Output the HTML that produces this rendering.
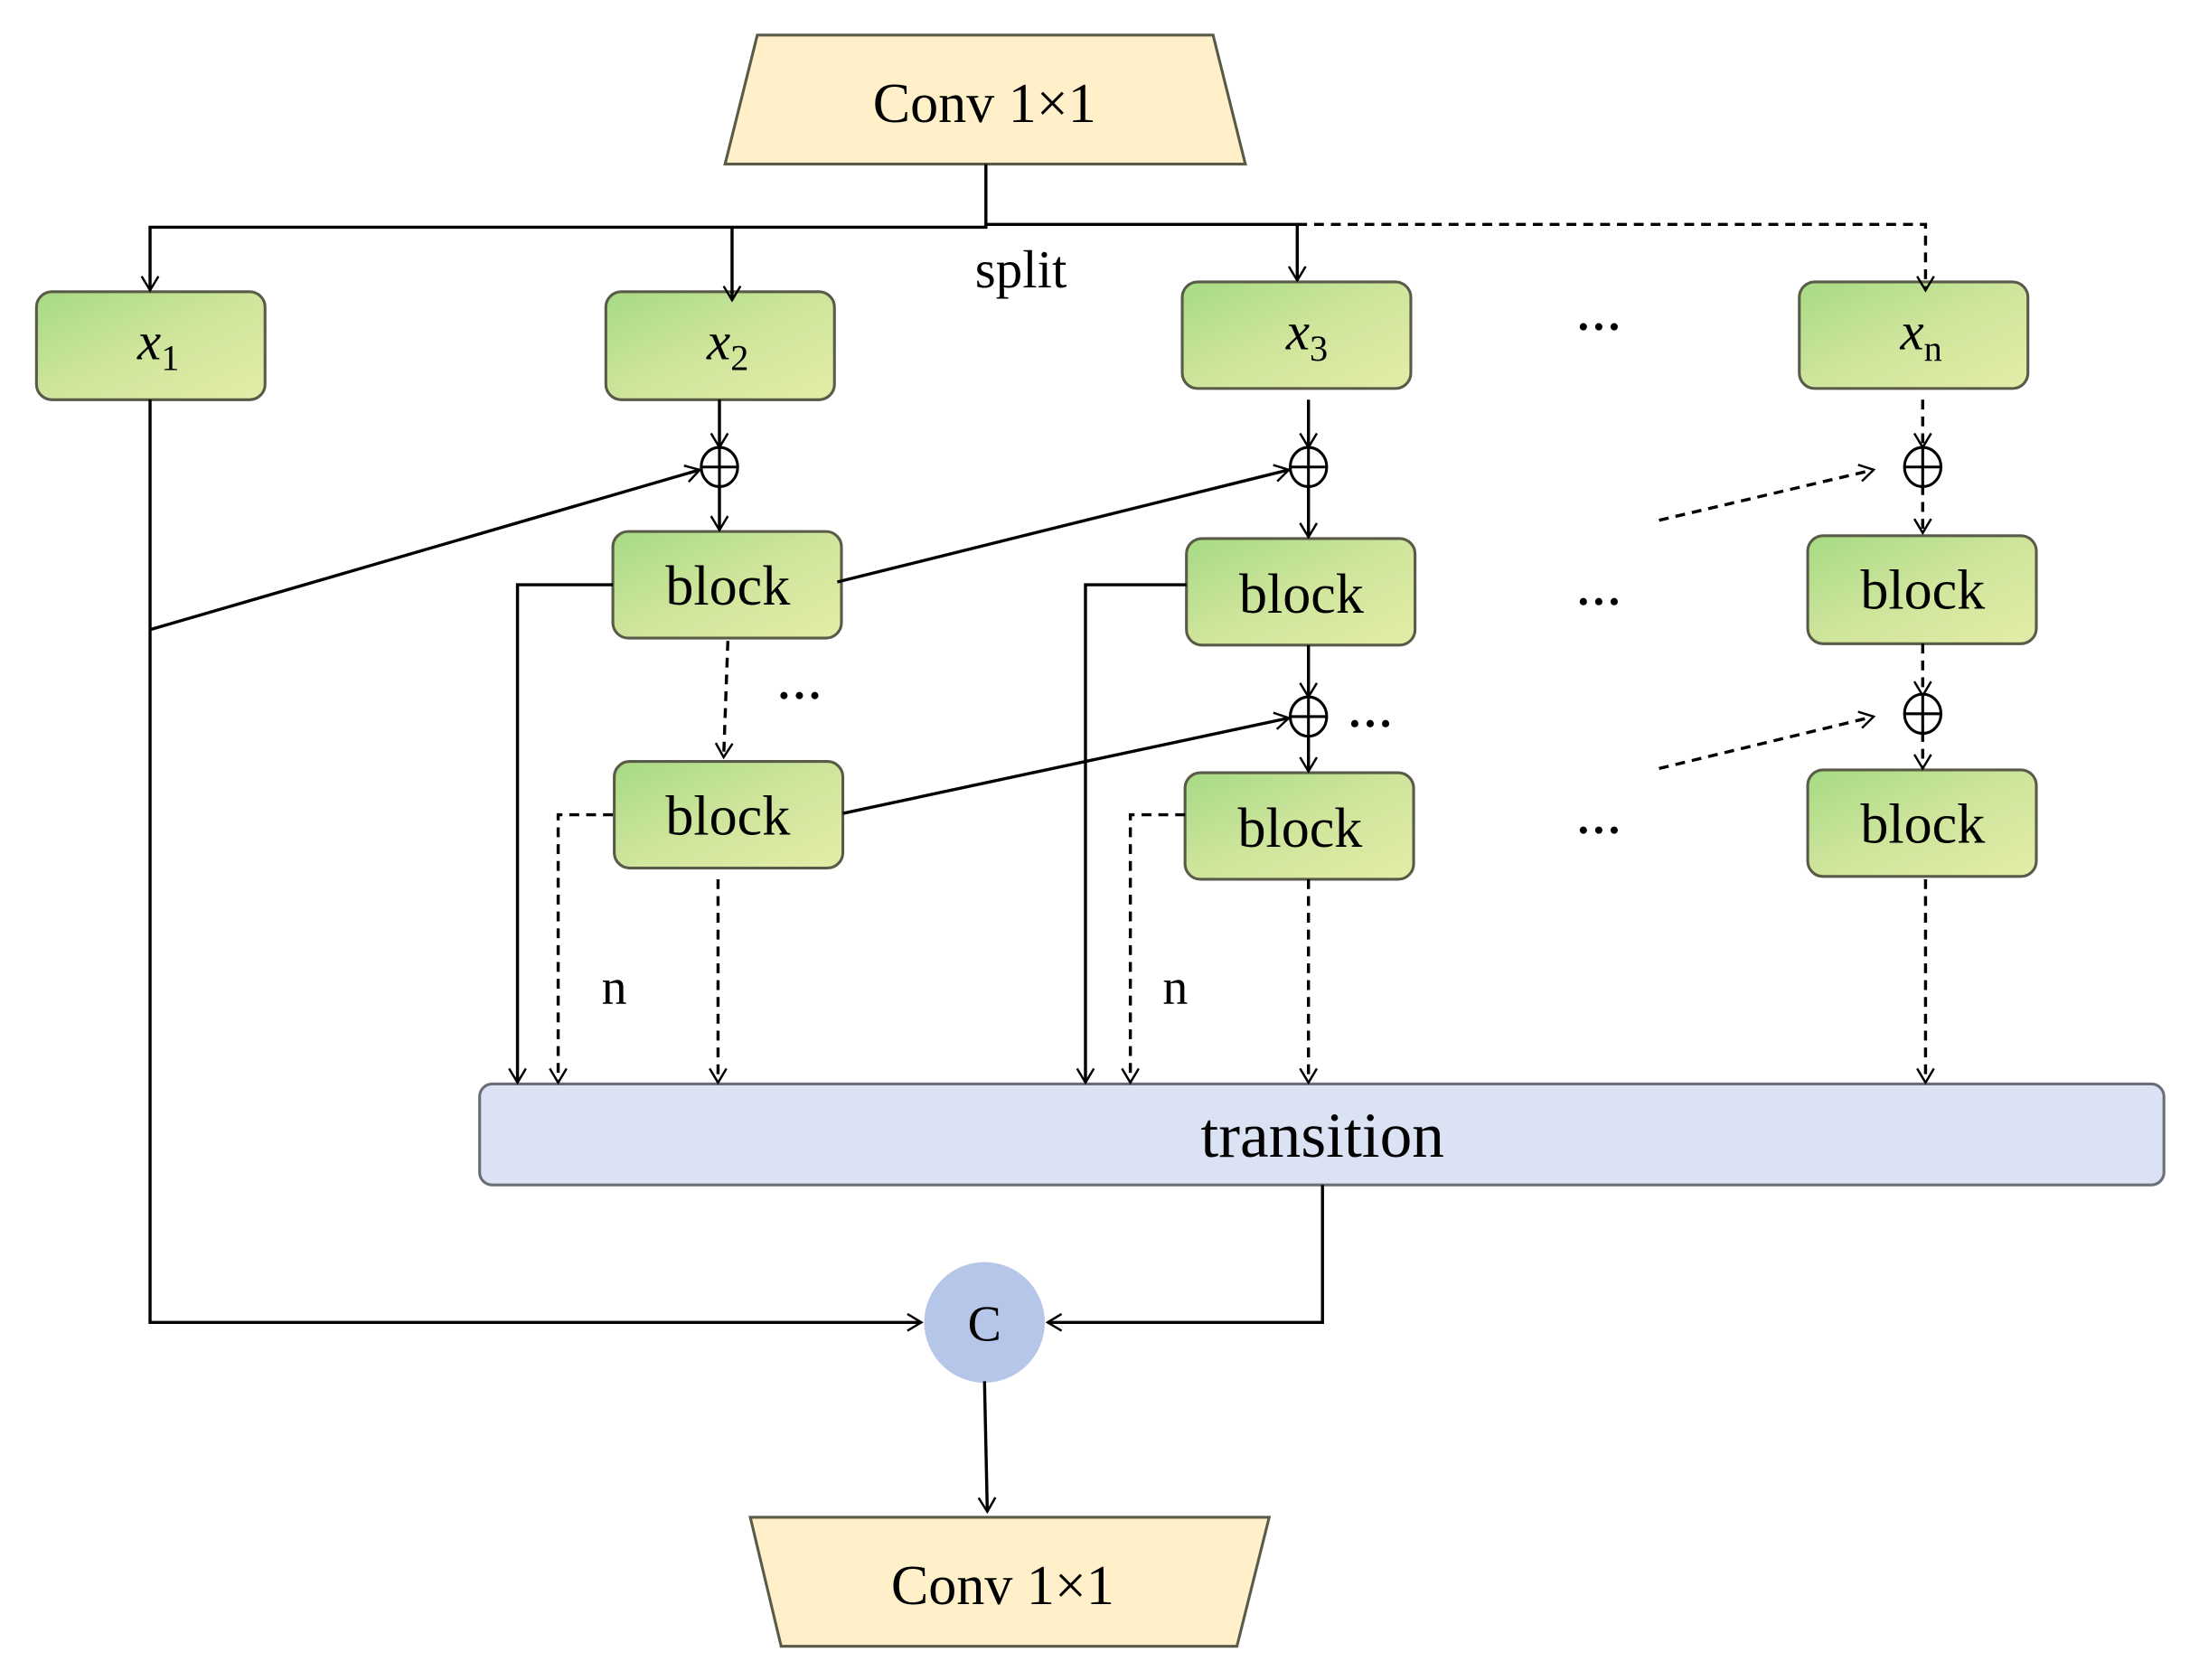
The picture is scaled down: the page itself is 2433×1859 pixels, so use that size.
<!DOCTYPE html>
<html><head><meta charset="utf-8"><style>
html,body{margin:0;padding:0;background:#fff}
svg{display:block}
text{font-family:"Liberation Serif",serif;fill:#000}
</style></head><body>
<svg width="2433" height="1859" viewBox="0 0 1568 1198" xmlns="http://www.w3.org/2000/svg">
<defs>
<linearGradient id="g" x1="0" y1="0" x2="1" y2="1">
<stop offset="0" stop-color="#a6da84"/><stop offset="0.5" stop-color="#cfe59c"/><stop offset="1" stop-color="#e4eda8"/>
</linearGradient>
<marker id="a" markerWidth="14" markerHeight="14" refX="12" refY="7" orient="auto" markerUnits="userSpaceOnUse">
<path d="M2,1 L12,7 L2,13" fill="none" stroke="#000" stroke-width="1.6"/>
</marker>
</defs>
<g stroke="#5a5a48" stroke-width="2">
<polygon points="540,25 865,25 888,117 517,117" fill="#fff0c9"/>
<polygon points="535,1082 905,1082 882,1174 557,1174" fill="#fff0c9"/>
<rect x="26" y="208" width="163" height="77" rx="11" fill="url(#g)"/>
<rect x="432" y="208" width="163" height="77" rx="11" fill="url(#g)"/>
<rect x="843" y="201" width="163" height="76" rx="11" fill="url(#g)"/>
<rect x="1283" y="201" width="163" height="76" rx="11" fill="url(#g)"/>
<rect x="437" y="379" width="163" height="76" rx="11" fill="url(#g)"/>
<rect x="438" y="543" width="163" height="76" rx="11" fill="url(#g)"/>
<rect x="846" y="384" width="163" height="76" rx="11" fill="url(#g)"/>
<rect x="845" y="551" width="163" height="76" rx="11" fill="url(#g)"/>
<rect x="1289" y="382" width="163" height="77" rx="11" fill="url(#g)"/>
<rect x="1289" y="549" width="163" height="76" rx="11" fill="url(#g)"/>
</g>
<rect x="342" y="773" width="1201" height="72" rx="9" fill="#dae2f4" stroke="#6a6e78" stroke-width="2"/>
<circle cx="702" cy="943" r="43" fill="#b6c6e8"/>
<g fill="none" stroke="#000" stroke-width="2.2">
<path d="M703,117 V162 H107 V207" marker-end="url(#a)"/>
<path d="M522,162 V214" marker-end="url(#a)"/>
<path d="M703,160 H925 V200" marker-end="url(#a)"/>
<path d="M925,160 H1373 V207" stroke-dasharray="7,5" marker-end="url(#a)"/>
<path d="M107,285 V943 H657" marker-end="url(#a)"/>
<path d="M107,449 L499,335" marker-end="url(#a)"/>
<path d="M513,285 V319" marker-end="url(#a)"/>
<path d="M513,346 V378" marker-end="url(#a)"/>
<path d="M597,415 L919,335" marker-end="url(#a)"/>
<path d="M437,417 H369 V772" marker-end="url(#a)"/>
<path d="M519,457 L516,540" stroke-dasharray="7,5" marker-end="url(#a)"/>
<path d="M601,580 L919,512" marker-end="url(#a)"/>
<path d="M437,581 H398 V772" stroke-dasharray="7,5" marker-end="url(#a)"/>
<path d="M512,627 V772" stroke-dasharray="7,5" marker-end="url(#a)"/>
<path d="M933,285 V319" marker-end="url(#a)"/>
<path d="M933,346 V383" marker-end="url(#a)"/>
<path d="M846,417 H774 V772" marker-end="url(#a)"/>
<path d="M933,460 V497" marker-end="url(#a)"/>
<path d="M933,524 V550" marker-end="url(#a)"/>
<path d="M845,581 H806 V772" stroke-dasharray="7,5" marker-end="url(#a)"/>
<path d="M933,627 V772" stroke-dasharray="7,5" marker-end="url(#a)"/>
<path d="M1371,285 V319" stroke-dasharray="7,5" marker-end="url(#a)"/>
<path d="M1371,346 V380" stroke-dasharray="7,5" marker-end="url(#a)"/>
<path d="M1371,459 V496" stroke-dasharray="7,5" marker-end="url(#a)"/>
<path d="M1371,522 V548" stroke-dasharray="7,5" marker-end="url(#a)"/>
<path d="M1183,371 L1336,335" stroke-dasharray="7,5" marker-end="url(#a)"/>
<path d="M1183,548 L1336,511" stroke-dasharray="7,5" marker-end="url(#a)"/>
<path d="M1373,627 V772" stroke-dasharray="7,5" marker-end="url(#a)"/>
<path d="M943,845 V943 H747" marker-end="url(#a)"/>
<path d="M702,985 L704,1078" marker-end="url(#a)"/>
</g>
<g fill="none" stroke="#000" stroke-width="2">
<ellipse cx="513" cy="333" rx="13" ry="14"/><path d="M500,333 H526 M513,319 V347"/>
<ellipse cx="933" cy="333" rx="13" ry="14"/><path d="M920,333 H946 M933,319 V347"/>
<ellipse cx="933" cy="511" rx="13" ry="14"/><path d="M920,511 H946 M933,497 V525"/>
<ellipse cx="1371" cy="333" rx="13" ry="14"/><path d="M1358,333 H1384 M1371,319 V347"/>
<ellipse cx="1371" cy="509" rx="13" ry="14"/><path d="M1358,509 H1384 M1371,495 V523"/>
</g>
<g font-size="40" text-anchor="middle">
<text x="702" y="87">Conv 1×1</text>
<text x="715" y="1144">Conv 1×1</text>
<text x="728" y="205" font-size="38">split</text>
<text x="519" y="431">block</text>
<text x="519" y="595">block</text>
<text x="928" y="437">block</text>
<text x="927" y="604">block</text>
<text x="1371" y="434">block</text>
<text x="1371" y="601">block</text>
<text x="943" y="825" font-size="46">transition</text>
<text x="702" y="956" font-size="36">C</text>
<text x="438" y="716" font-size="36">n</text>
<text x="838" y="716" font-size="36">n</text>
</g>
<g fill="#000">
<circle cx="1129" cy="233" r="2.6"/><circle cx="1140" cy="233" r="2.6"/><circle cx="1151" cy="233" r="2.6"/>
<circle cx="1129" cy="429" r="2.6"/><circle cx="1140" cy="429" r="2.6"/><circle cx="1151" cy="429" r="2.6"/>
<circle cx="1129" cy="592" r="2.6"/><circle cx="1140" cy="592" r="2.6"/><circle cx="1151" cy="592" r="2.6"/>
<circle cx="559" cy="496" r="2.6"/><circle cx="570" cy="496" r="2.6"/><circle cx="581" cy="496" r="2.6"/>
<circle cx="966" cy="516" r="2.6"/><circle cx="977" cy="516" r="2.6"/><circle cx="988" cy="516" r="2.6"/>
</g>
<g font-size="38" font-style="italic">
<text x="98" y="256">x<tspan font-style="normal" font-size="26" dy="8">1</tspan></text>
<text x="504" y="256">x<tspan font-style="normal" font-size="26" dy="8">2</tspan></text>
<text x="917" y="249">x<tspan font-style="normal" font-size="26" dy="8">3</tspan></text>
<text x="1355" y="249">x<tspan font-style="normal" font-size="26" dy="8">n</tspan></text>
</g>
</svg>
</body></html>
